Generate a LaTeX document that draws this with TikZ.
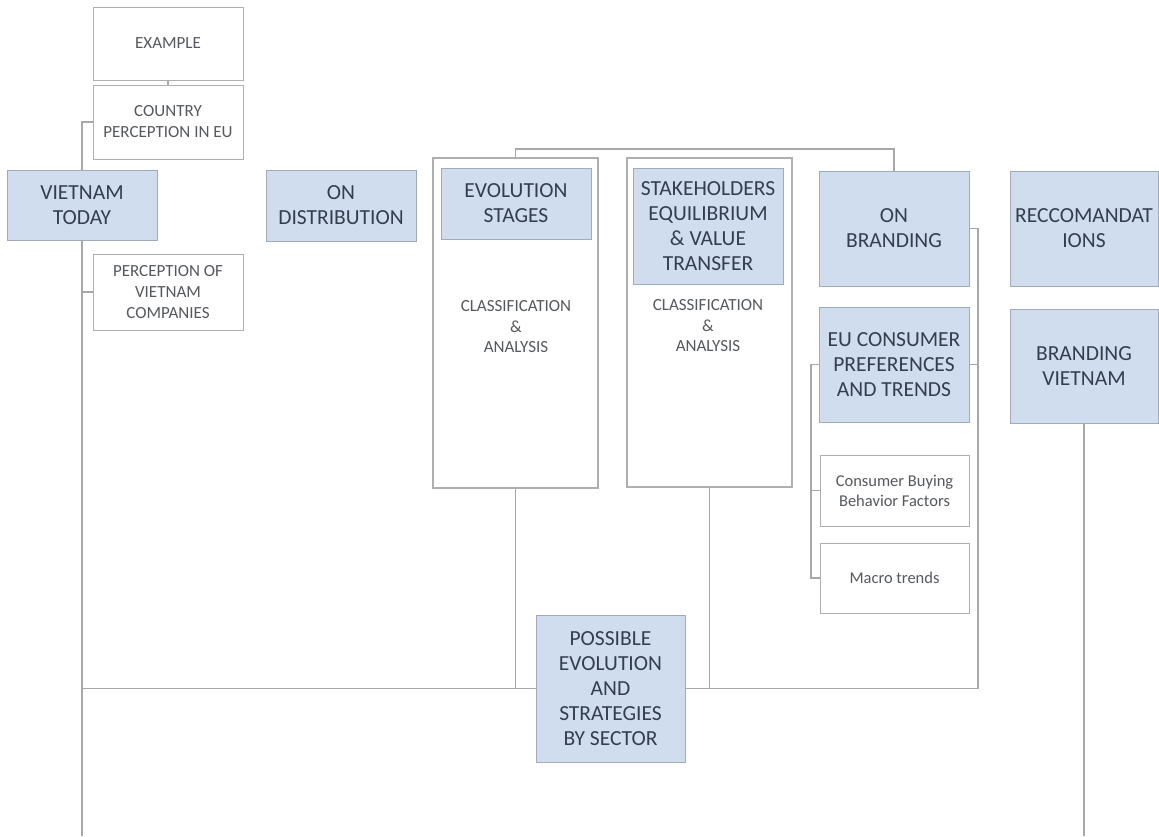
\documentclass[tikz,border=0pt]{standalone}
\usepackage{fontspec}
\setmainfont{Carlito}
\definecolor{boxblue}{RGB}{207,221,238}
\definecolor{blueedge}{RGB}{160,172,186}
\definecolor{greyedge}{RGB}{175,175,175}
\definecolor{linegrey}{RGB}{168,168,168}
\definecolor{titletext}{RGB}{52,62,78}
\definecolor{smalltext}{RGB}{85,88,92}
\tikzset{
  titlebox/.style={draw=blueedge, line width=0.9pt, fill=boxblue, inner sep=0pt, align=center,
    text=titletext, font=\fontsize{21.5}{25}\selectfont},
  plainbox/.style={draw=greyedge, line width=0.9pt, fill=white, inner sep=0pt, align=center,
    text=smalltext, font=\fontsize{17}{21}\selectfont},
  framebox/.style={draw=greyedge, line width=1.1pt, inner sep=0pt},
  notetext/.style={inner sep=0pt, align=center, text=smalltext, font=\fontsize{17}{20.5}\selectfont},
  link/.style={draw=linegrey, line width=1.2pt},
}
\begin{document}
\begin{tikzpicture}[x=1pt, y=-1pt]
\useasboundingbox (0,0) rectangle (1159,836);
\fill[white] (0,0) rectangle (1159,836);

% left column: Vietnam today and its sub-topics
\node[plainbox, minimum width=150, minimum height=73] (ex) at (168,43.5) {EXAMPLE};
\node[plainbox, minimum width=150, minimum height=74] (cty) at (168,122) {COUNTRY\\PERCEPTION IN EU};
\node[titlebox, minimum width=150, minimum height=70] (vt) at (82,205) {VIETNAM\\TODAY};
\node[plainbox, minimum width=150, minimum height=76] (pvc) at (168,292) {PERCEPTION OF\\VIETNAM\\COMPANIES};

% distribution
\node[titlebox, minimum width=150, minimum height=71] (dist) at (341,205.5) {ON\\DISTRIBUTION};

% evolution stages group
\node[framebox, minimum width=165, minimum height=330] (evo) at (515.5,323) {};
\node[titlebox, minimum width=150, minimum height=71] (evs) at (516,203.5) {EVOLUTION\\STAGES};
\node[notetext] (evc) at (516,327) {CLASSIFICATION\\\&\\ANALYSIS};

% stakeholders group
\node[framebox, minimum width=165, minimum height=329] (stk) at (709.5,322.5) {};
\node[titlebox, minimum width=150, minimum height=116] (sts) at (708,226) {STAKEHOLDERS\\EQUILIBRIUM\\\& VALUE\\TRANSFER};
\node[notetext] (stc) at (708,326) {CLASSIFICATION\\\&\\ANALYSIS};

% branding column
\node[titlebox, minimum width=150, minimum height=115] (brd) at (894,228.5) {ON\\BRANDING};
\node[titlebox, minimum width=150, minimum height=115] (eu) at (894,364.5) {EU CONSUMER\\PREFERENCES\\AND TRENDS};
\node[plainbox, minimum width=149, minimum height=71, font=\fontsize{16.5}{20}\selectfont] (cbb) at (894.5,490.5) {Consumer Buying\\Behavior Factors};
\node[plainbox, minimum width=149, minimum height=70, font=\fontsize{16.5}{20}\selectfont] (mac) at (894.5,578) {Macro trends};

% recommendations column
\node[titlebox, minimum width=148, minimum height=115] (rec) at (1084,228.5) {RECCOMANDAT\\IONS};
\node[titlebox, minimum width=148, minimum height=114] (bv) at (1084,366) {BRANDING\\VIETNAM};

% sector strategies
\node[titlebox, minimum width=149, minimum height=147] (pes) at (610.5,688.5) {POSSIBLE\\EVOLUTION\\AND\\STRATEGIES\\BY SECTOR};

% rails and free ends
\coordinate (topbar) at (0,149);
\coordinate (rrail) at (978,0);
\coordinate (lrail) at (811,0);
\coordinate (pageend) at (0,836);

% connectors
\draw[link] (ex.south) -- (cty.north);
\draw[link] (cty.west) -| (vt.north);
\draw[link] (vt.south) -- (vt.south |- pageend);
\draw[link] (pvc.west) -- (pvc.west -| vt.south);
\draw[link] (pes.west) -- (pes.west -| vt.south);

\draw[link] (evo.north) |- (topbar -| brd.north) -- (brd.north);
\draw[link] (evo.south) -- (evo.south |- pes.west);
\draw[link] (stk.south) -- (stk.south |- pes.east);
\draw[link] (pes.east) -| (brd.east -| rrail) -- (brd.east);
\draw[link] (eu.east) -- (eu.east -| rrail);

\draw[link] (eu.west) -| (mac.west -| lrail) -- (mac.west);
\draw[link] (cbb.west) -- (cbb.west -| lrail);

\draw[link] (bv.south) -- (bv.south |- pageend);
\end{tikzpicture}
\end{document}
